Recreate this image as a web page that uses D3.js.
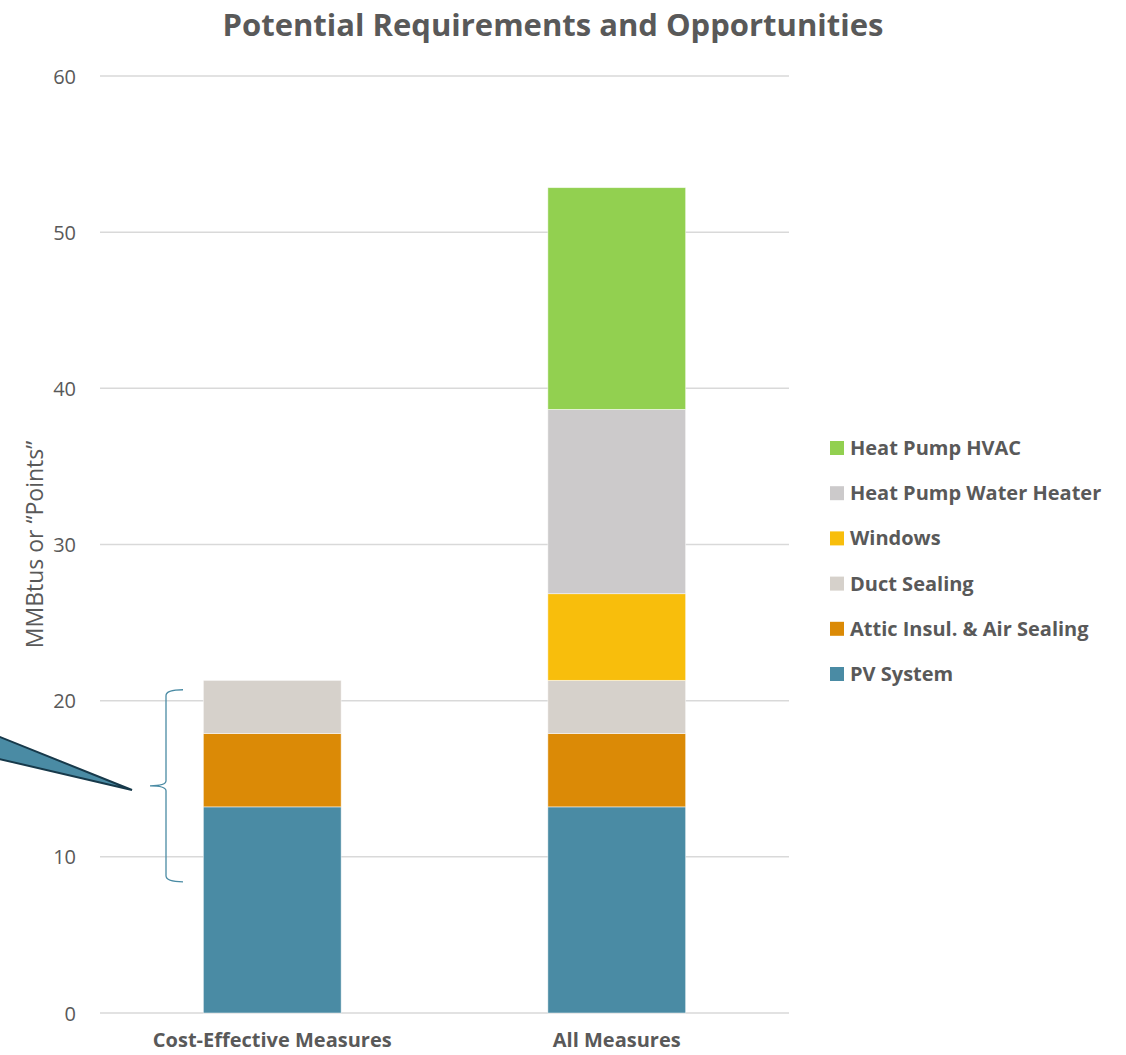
<!DOCTYPE html>
<html>
<head>
<meta charset="utf-8">
<script src="https://cdn.jsdelivr.net/npm/d3@7"></script>
<style>
  body { margin:0; background:#fff; }
  svg text { font-family: "Open Sans", "Noto Sans", sans-serif; fill:#595959; }
</style>
</head>
<body>
<svg id="chart" width="1126" height="1055"></svg>
<script>
const categories = ['Cost-Effective Measures', 'All Measures'];
const seriesNames = ['PV System', 'Attic Insul. & Air Sealing', 'Duct Sealing', 'Windows', 'Heat Pump Water Heater', 'Heat Pump HVAC'];
const costEffective = [13.2, 4.7, 3.4, 0, 0, 0];
const allMeasures   = [13.2, 4.7, 3.4, 5.55, 11.8, 14.2];
const seriesColors  = ['#4A8BA4', '#DB8A06', '#D6D1CB', '#F8BE0C', '#CCCACB', '#92D050'];
const yTicks = [0, 10, 20, 30, 40, 50, 60];
// bracket annotation (value range) beside first bar
const braceRange = [8.4, 20.7];

const svg = d3.select('#chart');
const margin = { top:76, left:100, right:337, bottom:42 };
const W = 1126, H = 1055;
const pw = W - margin.left - margin.right;
const ph = H - margin.top - margin.bottom;

const x = d3.scaleBand().domain(categories).range([margin.left, margin.left + pw]).paddingInner(0.6).paddingOuter(0.3);
const y = d3.scaleLinear().domain([0, 60]).range([margin.top + ph, margin.top]);
const color = d3.scaleOrdinal().domain(seriesNames).range(seriesColors);

// title
svg.append('text').attr('x', 553).attr('y', 36).attr('text-anchor','middle')
  .style('font-size','31px').style('font-weight','bold')
  .text('Potential Requirements and Opportunities');

// grid
svg.append('g').selectAll('line').data(yTicks).join('line')
  .attr('x1', margin.left).attr('x2', margin.left + pw)
  .attr('y1', d=>y(d)).attr('y2', d=>y(d))
  .attr('stroke','#D9D9D9').attr('stroke-width',1.5);

// y axis labels
const yAxis = svg.append('g').attr('transform', `translate(${margin.left - 24},0)`)
  .call(d3.axisLeft(y).tickValues(yTicks).tickSize(0).tickPadding(0));
yAxis.select('.domain').remove();
yAxis.selectAll('text').style('font-size','20px').style('font-family','"Open Sans", sans-serif').attr('fill','#595959').attr('dy','0.35em');

svg.append('text')
  .attr('transform', `translate(43,${y(30)}) rotate(-90)`)
  .attr('text-anchor','middle')
  .style('font-size','23px')
  .text('MMBtus or \u201cPoints\u201d');

// stacked bars
const rows = categories.map((c,i) => {
  const vals = i === 0 ? costEffective : allMeasures;
  const r = { category: c };
  seriesNames.forEach((s,j) => r[s] = vals[j]);
  return r;
});
const stacked = d3.stack().keys(seriesNames)(rows);
svg.append('g').selectAll('g').data(stacked).join('g')
  .attr('fill', d=>color(d.key))
  .selectAll('rect').data(d=>d.filter(p => p[1] - p[0] > 0)).join('rect')
    .attr('x', d=>x(d.data.category))
    .attr('width', x.bandwidth())
    .attr('y', d=>y(d[1]))
    .attr('height', d=>y(d[0]) - y(d[1]))
    .attr('stroke','#fff').attr('stroke-opacity',0.6).attr('stroke-width',0.8);

// x labels
svg.append('g').selectAll('text').data(categories).join('text')
  .attr('x', d=>x(d) + x.bandwidth()/2).attr('y', 1047)
  .attr('text-anchor','middle')
  .style('font-size','20px').style('font-weight','bold')
  .text(d=>d);

// legend
const legendNames = seriesNames.slice().reverse();
const lg = svg.append('g').attr('transform','translate(830,448)');
const li = lg.selectAll('g').data(legendNames).join('g')
  .attr('transform', (d,i)=>`translate(0,${i*45.2})`);
li.append('rect').attr('x',0).attr('y',-7).attr('width',14).attr('height',14).attr('fill', d=>color(d));
li.append('text').attr('x',20).attr('y',0).attr('dy','0.35em')
  .style('font-size','20px').style('font-weight','bold').text(d=>d);

// bracket
const bTop = y(braceRange[1]), bBot = y(braceRange[0]), bMid = (bTop + bBot)/2;
svg.append('path')
  .attr('d', `M183,${bTop} Q166,${bTop} 166,${bTop+6} L166,${bMid-5} Q166,${bMid} 150,${bMid} Q166,${bMid} 166,${bMid+5} L166,${bBot-6} Q166,${bBot} 183,${bBot}`)
  .attr('fill','none').attr('stroke','#4A8BA4').attr('stroke-width',1.3);

// callout pointer coming from the left
svg.append('path')
  .attr('d', `M-5,735 L132,790 L-5,758 Z`)
  .attr('fill','#4A8BA4').attr('stroke','#17394A').attr('stroke-width',2).attr('stroke-linejoin','miter');
</script>
</body>
</html>
